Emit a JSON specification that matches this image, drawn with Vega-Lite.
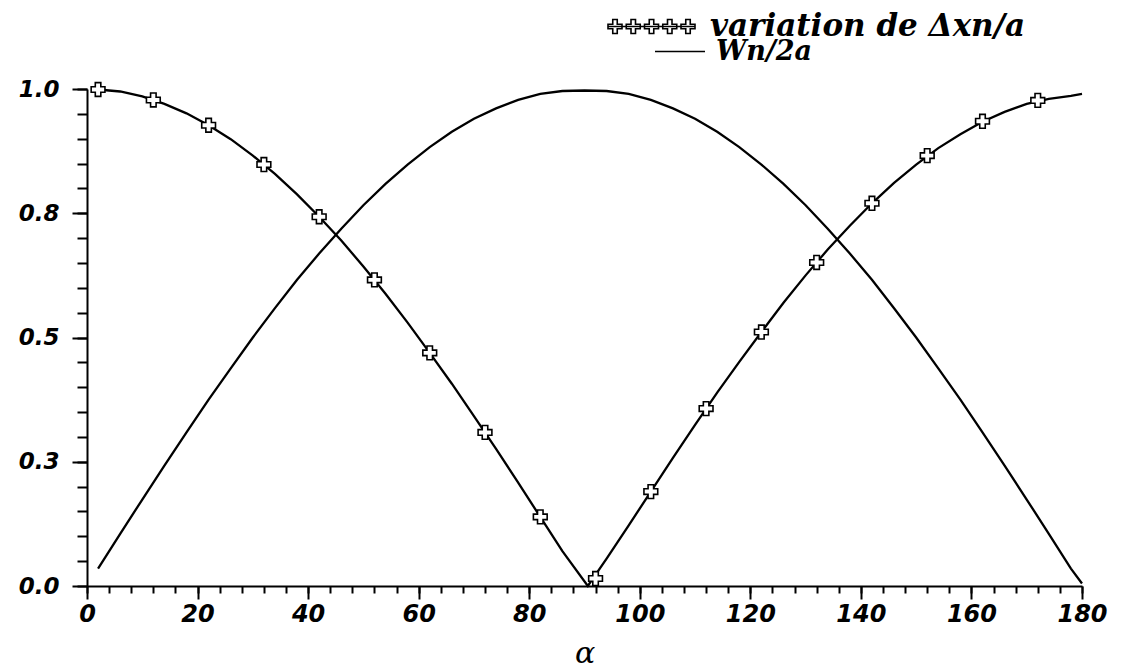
{
  "$schema": "https://vega.github.io/schema/vega-lite/v6.json",
  "width": 995,
  "height": 497,
  "autosize": {"type": "none"},
  "padding": {"left": 87, "top": 89, "right": 42, "bottom": 84},
  "background": "white",
  "config": {"view": {"stroke": null}},
  "datasets": {
    "curves": [
      {"s": "Wn/2a", "a": 2, "v": 0.035}, {"s": "Wn/2a", "a": 6, "v": 0.105}, {"s": "Wn/2a", "a": 10, "v": 0.174},
      {"s": "Wn/2a", "a": 14, "v": 0.242}, {"s": "Wn/2a", "a": 18, "v": 0.309}, {"s": "Wn/2a", "a": 22, "v": 0.375},
      {"s": "Wn/2a", "a": 26, "v": 0.438}, {"s": "Wn/2a", "a": 30, "v": 0.5}, {"s": "Wn/2a", "a": 34, "v": 0.559},
      {"s": "Wn/2a", "a": 38, "v": 0.616}, {"s": "Wn/2a", "a": 42, "v": 0.669}, {"s": "Wn/2a", "a": 46, "v": 0.719},
      {"s": "Wn/2a", "a": 50, "v": 0.766}, {"s": "Wn/2a", "a": 54, "v": 0.809}, {"s": "Wn/2a", "a": 58, "v": 0.848},
      {"s": "Wn/2a", "a": 62, "v": 0.883}, {"s": "Wn/2a", "a": 66, "v": 0.914}, {"s": "Wn/2a", "a": 70, "v": 0.94},
      {"s": "Wn/2a", "a": 74, "v": 0.961}, {"s": "Wn/2a", "a": 78, "v": 0.978}, {"s": "Wn/2a", "a": 82, "v": 0.99},
      {"s": "Wn/2a", "a": 86, "v": 0.996}, {"s": "Wn/2a", "a": 90, "v": 0.997}, {"s": "Wn/2a", "a": 94, "v": 0.996},
      {"s": "Wn/2a", "a": 98, "v": 0.99}, {"s": "Wn/2a", "a": 102, "v": 0.978}, {"s": "Wn/2a", "a": 106, "v": 0.961},
      {"s": "Wn/2a", "a": 110, "v": 0.94}, {"s": "Wn/2a", "a": 114, "v": 0.914}, {"s": "Wn/2a", "a": 118, "v": 0.883},
      {"s": "Wn/2a", "a": 122, "v": 0.848}, {"s": "Wn/2a", "a": 126, "v": 0.809}, {"s": "Wn/2a", "a": 130, "v": 0.766},
      {"s": "Wn/2a", "a": 134, "v": 0.719}, {"s": "Wn/2a", "a": 138, "v": 0.669}, {"s": "Wn/2a", "a": 142, "v": 0.616},
      {"s": "Wn/2a", "a": 146, "v": 0.559}, {"s": "Wn/2a", "a": 150, "v": 0.5}, {"s": "Wn/2a", "a": 154, "v": 0.438},
      {"s": "Wn/2a", "a": 158, "v": 0.375}, {"s": "Wn/2a", "a": 162, "v": 0.309}, {"s": "Wn/2a", "a": 166, "v": 0.242},
      {"s": "Wn/2a", "a": 170, "v": 0.174}, {"s": "Wn/2a", "a": 174, "v": 0.105}, {"s": "Wn/2a", "a": 178, "v": 0.035},
      {"s": "Wn/2a", "a": 180, "v": 0.005},
      {"s": "dx", "a": 2, "v": 0.999}, {"s": "dx", "a": 6, "v": 0.995}, {"s": "dx", "a": 10, "v": 0.985},
      {"s": "dx", "a": 14, "v": 0.97}, {"s": "dx", "a": 18, "v": 0.951}, {"s": "dx", "a": 22, "v": 0.927},
      {"s": "dx", "a": 26, "v": 0.899}, {"s": "dx", "a": 30, "v": 0.866}, {"s": "dx", "a": 34, "v": 0.829},
      {"s": "dx", "a": 38, "v": 0.788}, {"s": "dx", "a": 42, "v": 0.743}, {"s": "dx", "a": 46, "v": 0.695},
      {"s": "dx", "a": 50, "v": 0.643}, {"s": "dx", "a": 54, "v": 0.588}, {"s": "dx", "a": 58, "v": 0.53},
      {"s": "dx", "a": 62, "v": 0.469}, {"s": "dx", "a": 66, "v": 0.407}, {"s": "dx", "a": 70, "v": 0.342},
      {"s": "dx", "a": 74, "v": 0.276}, {"s": "dx", "a": 78, "v": 0.208}, {"s": "dx", "a": 82, "v": 0.139},
      {"s": "dx", "a": 86, "v": 0.07}, {"s": "dx", "a": 90.6, "v": 0.0}, {"s": "dx", "a": 94, "v": 0.055},
      {"s": "dx", "a": 98, "v": 0.122}, {"s": "dx", "a": 102, "v": 0.19}, {"s": "dx", "a": 106, "v": 0.258},
      {"s": "dx", "a": 110, "v": 0.324}, {"s": "dx", "a": 114, "v": 0.389}, {"s": "dx", "a": 118, "v": 0.451},
      {"s": "dx", "a": 122, "v": 0.511}, {"s": "dx", "a": 126, "v": 0.57}, {"s": "dx", "a": 130, "v": 0.625},
      {"s": "dx", "a": 134, "v": 0.677}, {"s": "dx", "a": 138, "v": 0.725}, {"s": "dx", "a": 142, "v": 0.77},
      {"s": "dx", "a": 146, "v": 0.811}, {"s": "dx", "a": 150, "v": 0.848}, {"s": "dx", "a": 154, "v": 0.881},
      {"s": "dx", "a": 158, "v": 0.909}, {"s": "dx", "a": 162, "v": 0.934}, {"s": "dx", "a": 166, "v": 0.954},
      {"s": "dx", "a": 170, "v": 0.97}, {"s": "dx", "a": 174, "v": 0.98}, {"s": "dx", "a": 178, "v": 0.986},
      {"s": "dx", "a": 180, "v": 0.99}
    ],
    "markers": [
      {"series": "variation de Δxn/a", "a": 2, "v": 0.999}, {"series": "variation de Δxn/a", "a": 12, "v": 0.978},
      {"series": "variation de Δxn/a", "a": 22, "v": 0.927}, {"series": "variation de Δxn/a", "a": 32, "v": 0.848},
      {"series": "variation de Δxn/a", "a": 42, "v": 0.743}, {"series": "variation de Δxn/a", "a": 52, "v": 0.616},
      {"series": "variation de Δxn/a", "a": 62, "v": 0.469}, {"series": "variation de Δxn/a", "a": 72, "v": 0.309},
      {"series": "variation de Δxn/a", "a": 82, "v": 0.139}, {"series": "variation de Δxn/a", "a": 92, "v": 0.015},
      {"series": "variation de Δxn/a", "a": 102, "v": 0.19}, {"series": "variation de Δxn/a", "a": 112, "v": 0.357},
      {"series": "variation de Δxn/a", "a": 122, "v": 0.511}, {"series": "variation de Δxn/a", "a": 132, "v": 0.651},
      {"series": "variation de Δxn/a", "a": 142, "v": 0.77}, {"series": "variation de Δxn/a", "a": 152, "v": 0.866},
      {"series": "variation de Δxn/a", "a": 162, "v": 0.935}, {"series": "variation de Δxn/a", "a": 172, "v": 0.977}
    ]
  },
  "resolve": {"axis": {"x": "independent", "y": "independent"}, "scale": {"shape": "independent"}},
  "layer": [
    {
      "data": {"name": "curves"},
      "mark": {"type": "line", "color": "black", "strokeWidth": 2.3},
      "encoding": {
        "x": {"field": "a", "type": "quantitative",
          "scale": {"domain": [0, 180], "nice": false, "zero": false},
          "axis": {"orient": "bottom", "values": [0, 20, 40, 60, 80, 100, 120, 140, 160, 180], "format": "d",
            "grid": false, "tickSize": 13, "tickWidth": 2, "tickColor": "black", "domainColor": "black", "domainWidth": 2,
            "labelFont": "DejaVu Sans", "labelFontStyle": "italic", "labelFontWeight": "bold", "labelFontSize": 24,
            "labelColor": "black", "labelPadding": 3, "labelFlush": false, "labelOverlap": false, "labelBound": false,
            "title": "α", "titleFont": "DejaVu Serif", "titleFontStyle": "italic", "titleFontWeight": "normal",
            "titleFontSize": 30, "titleColor": "black", "titlePadding": 12}},
        "y": {"field": "v", "type": "quantitative",
          "scale": {"domain": [0, 1], "nice": false},
          "axis": {"orient": "left", "values": [0, 0.25, 0.5, 0.75, 1], "format": ".1f",
            "grid": false, "tickSize": 15, "tickWidth": 2, "tickColor": "black", "domainColor": "black", "domainWidth": 2,
            "labelFont": "DejaVu Sans", "labelFontStyle": "italic", "labelFontWeight": "bold", "labelFontSize": 23,
            "labelColor": "black", "labelPadding": 13, "labelFlush": false, "labelOverlap": false, "labelBound": false,
            "title": null}},
        "detail": {"field": "s", "type": "nominal"}
      }
    },
    {
      "data": {"name": "markers"},
      "mark": {"type": "point", "shape": "cross", "filled": true, "fill": "white", "stroke": "black", "strokeWidth": 1.6, "size": 190, "opacity": 1},
      "encoding": {
        "x": {"field": "a", "type": "quantitative",
          "axis": {"orient": "bottom", "values": [0, 4, 8, 12, 16, 20, 24, 28, 32, 36, 40, 44, 48, 52, 56, 60, 64, 68, 72, 76, 80, 84, 88, 92, 96, 100, 104, 108, 112, 116, 120, 124, 128, 132, 136, 140, 144, 148, 152, 156, 160, 164, 168, 172, 176, 180],
            "grid": false, "domain": false, "labels": false, "title": null, "tickSize": 7, "tickWidth": 2, "tickColor": "black"}},
        "y": {"field": "v", "type": "quantitative",
          "axis": {"orient": "left", "values": [0, 0.05, 0.1, 0.15, 0.2, 0.25, 0.3, 0.35, 0.4, 0.45, 0.5, 0.55, 0.6, 0.65, 0.7, 0.75, 0.8, 0.85, 0.9, 0.95, 1],
            "grid": false, "domain": false, "labels": false, "title": null, "tickSize": 10, "tickWidth": 2, "tickColor": "black"}}
      }
    },
    {
      "data": {"name": "markers"},
      "transform": [{"filter": "false"}],
      "mark": {"type": "point", "color": "black", "strokeWidth": 1.6},
      "encoding": {
        "shape": {"field": "series", "type": "nominal",
          "scale": {"domain": ["variation de Δxn/a"], "range": ["M-0.8,0L16.6,0M0.15,-1.4L1.05,-1.4L1.05,-0.45L2,-0.45L2,0.45L1.05,0.45L1.05,1.4L0.15,1.4L0.15,0.45L-0.8,0.45L-0.8,-0.45L0.15,-0.45ZM3.8,-1.4L4.7,-1.4L4.7,-0.45L5.65,-0.45L5.65,0.45L4.7,0.45L4.7,1.4L3.8,1.4L3.8,0.45L2.85,0.45L2.85,-0.45L3.8,-0.45ZM7.45,-1.4L8.35,-1.4L8.35,-0.45L9.3,-0.45L9.3,0.45L8.35,0.45L8.35,1.4L7.45,1.4L7.45,0.45L6.5,0.45L6.5,-0.45L7.45,-0.45ZM11.1,-1.4L12,-1.4L12,-0.45L12.95,-0.45L12.95,0.45L12,0.45L12,1.4L11.1,1.4L11.1,0.45L10.15,0.45L10.15,-0.45L11.1,-0.45ZM14.75,-1.4L15.65,-1.4L15.65,-0.45L16.6,-0.45L16.6,0.45L15.65,0.45L15.65,1.4L14.75,1.4L14.75,0.45L13.8,0.45L13.8,-0.45L14.75,-0.45Z"]},
          "legend": {"orient": "none", "legendX": 509.5, "legendY": -78, "title": null, "padding": 0,
            "symbolSize": 100, "symbolStrokeWidth": 1.6, "symbolStrokeColor": "black", "symbolOpacity": 1,
            "labelFont": "DejaVu Serif", "labelFontStyle": "italic", "labelFontWeight": "bold", "labelFontSize": 31,
            "labelColor": "black", "labelOffset": 82.5, "labelLimit": 700}
        }
      }
    },
    {
      "data": {"name": "markers"},
      "transform": [{"filter": "false"}],
      "mark": {"type": "point", "color": "black", "strokeWidth": 1.6},
      "encoding": {
        "shape": {"field": "series", "type": "nominal",
          "scale": {"domain": ["Wn/2a"], "range": ["M2.5,0L12.5,0"]},
          "legend": {"orient": "none", "legendX": 542, "legendY": -51, "title": null, "padding": 0,
            "symbolSize": 100, "symbolStrokeWidth": 1.6, "symbolStrokeColor": "black", "symbolOpacity": 1,
            "labelFont": "DejaVu Serif", "labelFontStyle": "italic", "labelFontWeight": "bold", "labelFontSize": 27,
            "labelColor": "black", "labelOffset": 60, "labelLimit": 700}
        }
      }
    }
  ]
}
